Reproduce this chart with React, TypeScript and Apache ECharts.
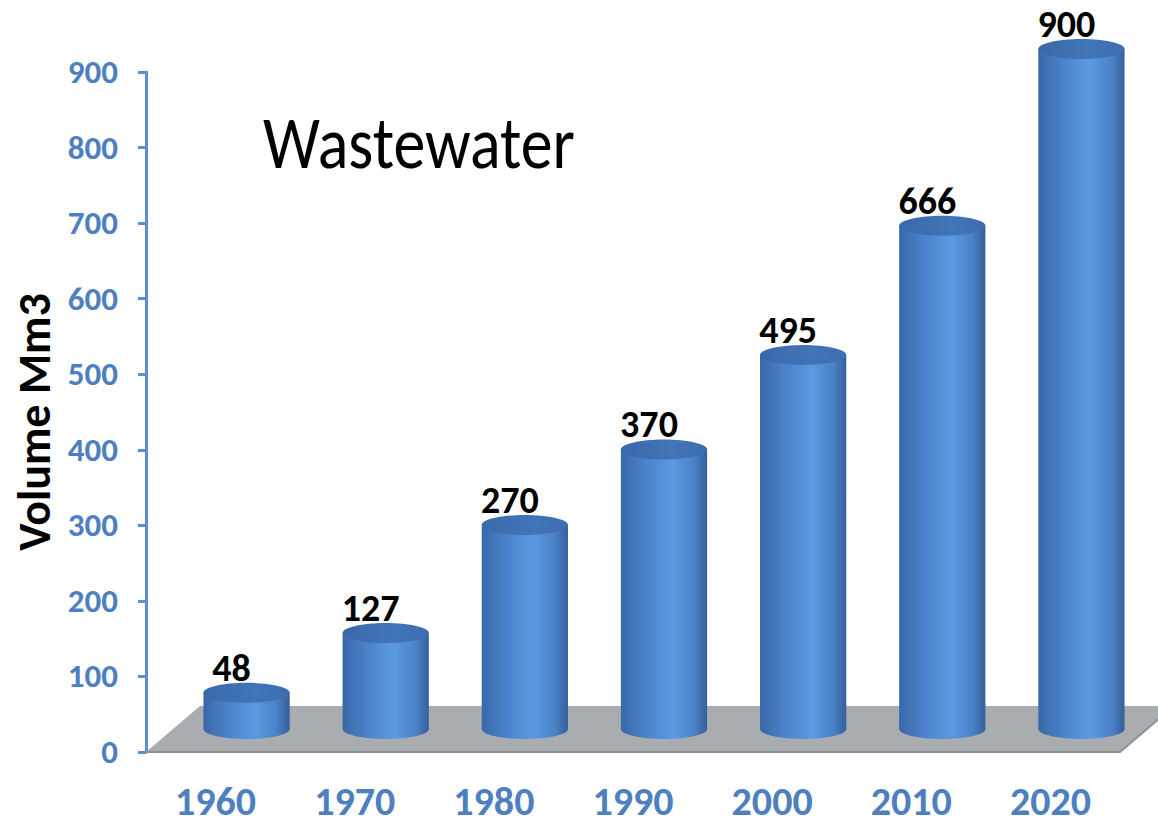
import { useEffect, useRef } from 'react';
import * as echarts from 'echarts';

// Wastewater volume by decade (Mm3)
const years = ['1960', '1970', '1980', '1990', '2000', '2010', '2020'];
const volumes = [48, 127, 270, 370, 495, 666, 900];
const yMin = 0;
const yMax = 900;
const yStep = 100;
const chartTitle = 'Wastewater';
const axisTitle = 'Volume Mm3';

const AXIS_BLUE = '#5b8fd5';
const LABEL_BLUE = '#4e80bf';
const FONT = 'Carlito, Lato, "Open Sans", sans-serif';

// oblique projection of the floor depth (screen px)
const FLOOR_DX = 54;
const FLOOR_DY = -46;
// cylinders stand in the middle of the floor depth
const BAR_DX = 31;
const BAR_DY = -23;

const sideFill = () =>
  new echarts.graphic.LinearGradient(0, 0, 1, 0, [
    { offset: 0, color: '#3a68a9' },
    { offset: 0.3, color: '#4b83cb' },
    { offset: 0.6, color: '#5b9ae3' },
    { offset: 0.85, color: '#4b81c7' },
    { offset: 1, color: '#365f9c' },
  ]);

const topFill = () =>
  new echarts.graphic.LinearGradient(0, 0, 1, 0, [
    { offset: 0, color: '#3a69aa' },
    { offset: 0.6, color: '#4174b8' },
    { offset: 1, color: '#3d6db0' },
  ]);

export default function App() {
  const ref = useRef<HTMLDivElement>(null);

  useEffect(() => {
    const chart = echarts.init(ref.current!, null, { renderer: 'svg' });

    chart.setOption({
      animation: false,
      backgroundColor: '#ffffff',
      grid: { left: 146, right: 38, top: 72, bottom: 69, containLabel: false },
      xAxis: {
        type: 'category',
        data: years,
        boundaryGap: true,
        axisLine: { show: false },
        axisTick: { show: false },
        axisLabel: {
          color: LABEL_BLUE,
          fontSize: 40,
          fontWeight: 'bold',
          fontFamily: FONT,
          lineHeight: 40,
          margin: 49,
          verticalAlign: 'middle',
        },
      },
      yAxis: {
        type: 'value',
        min: yMin,
        max: yMax,
        interval: yStep,
        splitLine: { show: false },
        axisLine: { show: true, lineStyle: { color: AXIS_BLUE, width: 3 } },
        axisTick: { show: true, length: 8, lineStyle: { color: AXIS_BLUE, width: 3 } },
        axisLabel: {
          color: LABEL_BLUE,
          fontSize: 33,
          fontWeight: 'bold',
          fontFamily: FONT,
          margin: 28,
        },
      },
      graphic: [
        {
          type: 'text',
          x: 263,
          y: 143,
          scaleY: 1.15,
          style: {
            text: chartTitle,
            fill: '#000000',
            font: `normal 64px ${FONT}`,
            align: 'left',
            verticalAlign: 'middle',
            textAlign: 'left',
            textVerticalAlign: 'middle',
          },
        },
        {
          type: 'text',
          x: 34,
          y: 422,
          rotation: Math.PI / 2,
          style: {
            text: axisTitle,
            fill: '#000000',
            font: `bold 46px ${FONT}`,
            align: 'center',
            verticalAlign: 'middle',
            textAlign: 'center',
            textVerticalAlign: 'middle',
          },
        },
      ],
      series: [
        {
          // grey floor under the cylinders
          type: 'custom',
          z: 1,
          silent: true,
          data: [[0, 0]],
          renderItem: (_params: any, api: any) => {
            const p = api.coord([0, 0]);
            const band = api.size([1, 0])[0];
            const x0 = p[0] - band / 2;
            const x1 = x0 + band * years.length;
            const y = p[1];
            return {
              type: 'group',
              children: [
                {
                  type: 'polygon',
                  shape: {
                    points: [
                      [x0, y],
                      [x1, y],
                      [x1 + FLOOR_DX, y + FLOOR_DY],
                      [x0 + FLOOR_DX, y + FLOOR_DY],
                    ],
                  },
                  style: { fill: '#aaadb0' },
                },
                {
                  type: 'polyline',
                  shape: {
                    points: [
                      [x0, y],
                      [x1, y],
                      [x1 + FLOOR_DX, y + FLOOR_DY],
                    ],
                  },
                  style: { stroke: '#8e9195', lineWidth: 2, fill: null },
                },
              ],
            };
          },
        },
        {
          // cylinders with their value labels
          type: 'custom',
          z: 2,
          data: volumes.map((v, i) => [i, v]),
          renderItem: (_params: any, api: any) => {
            const i = api.value(0);
            const v = api.value(1);
            const base = api.coord([i, 0]);
            const top = api.coord([i, v]);
            const band = api.size([1, 0])[0];
            const rx = band * 0.31;
            const ry = 10;
            const cx = base[0] + BAR_DX;
            const by = base[1] + BAR_DY;
            const ty = top[1] + BAR_DY;
            return {
              type: 'group',
              children: [
                { type: 'ellipse', shape: { cx, cy: by, rx, ry }, style: { fill: sideFill() } },
                {
                  type: 'rect',
                  shape: { x: cx - rx, y: ty, width: rx * 2, height: by - ty },
                  style: { fill: sideFill() },
                },
                { type: 'ellipse', shape: { cx, cy: ty, rx, ry }, style: { fill: topFill() } },
                {
                  type: 'text',
                  style: {
                    text: String(v),
                    x: cx - 15,
                    y: ty - 25,
                    fill: '#000000',
                    font: `bold 38px ${FONT}`,
                    align: 'center',
                    verticalAlign: 'middle',
                    textAlign: 'center',
                    textVerticalAlign: 'middle',
                  },
                },
              ],
            };
          },
        },
      ],
    });

    return () => chart.dispose();
  }, []);

  return (
    <div
      ref={ref}
      style={{ position: 'fixed', left: 0, top: 0, width: 1158, height: 821 }}
    />
  );
}
